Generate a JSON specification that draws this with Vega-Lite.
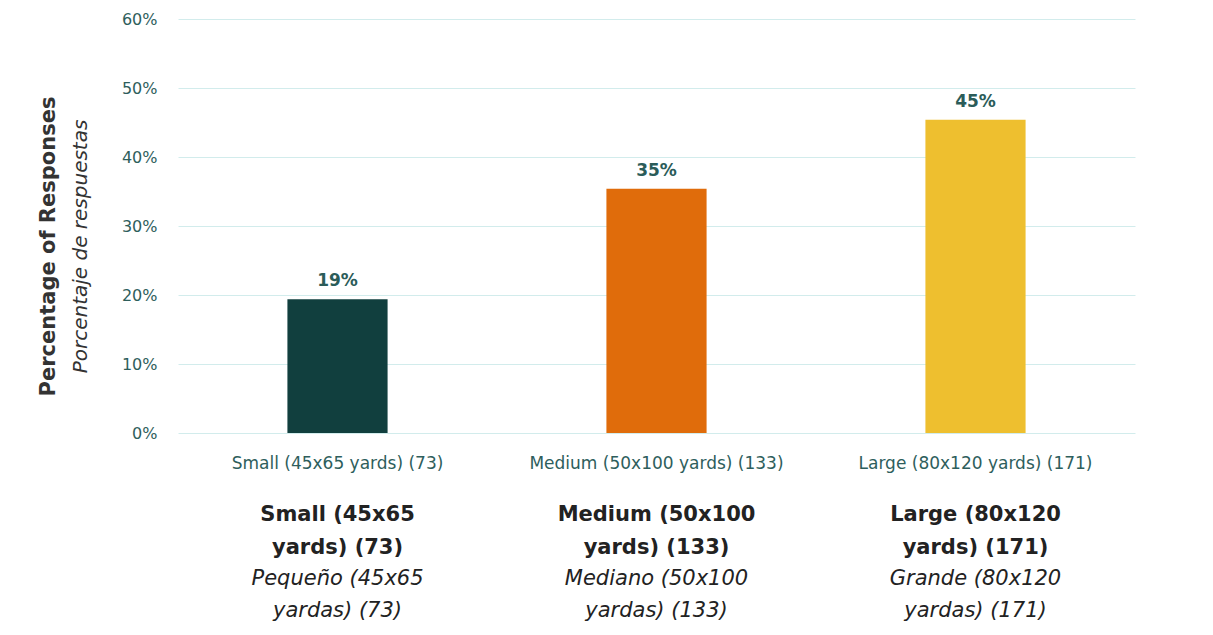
{
  "$schema": "https://vega.github.io/schema/vega-lite/v6.json",
  "width": 957,
  "height": 414,
  "autosize": {"type": "none"},
  "padding": {"left": 178, "top": 19, "right": 78, "bottom": 202},
  "background": "white",
  "config": {"view": {"stroke": null}, "font": "DejaVu Sans"},
  "data": {"values": [
    {"size": "Small (45x65 yards) (73)", "pct": 0.194, "color": "#113f3e"},
    {"size": "Medium (50x100 yards) (133)", "pct": 0.354, "color": "#e06c0b"},
    {"size": "Large (80x120 yards) (171)", "pct": 0.454, "color": "#eebf2f"}
  ]},
  "encoding": {
    "x": {"field": "size", "type": "nominal", "sort": null,
      "scale": {"paddingInner": 0.686, "paddingOuter": 0.343}}
  },
  "layer": [
    {
      "mark": {"type": "bar"},
      "encoding": {
        "x": {"field": "size", "type": "nominal", "sort": null,
          "axis": {"orient": "bottom", "title": null, "labelAngle": 0, "domain": false, "ticks": false,
            "labelPadding": 22, "labelFontSize": 17, "labelColor": "#2e5e5c", "labelFont": "DejaVu Sans", "labelLimit": 400}},
        "y": {"field": "pct", "type": "quantitative",
          "scale": {"domain": [0, 0.6]},
          "axis": {"orient": "left", "values": [0, 0.1, 0.2, 0.3, 0.4, 0.5, 0.6], "format": ".0%",
            "domain": false, "ticks": false, "labelPadding": 21, "labelFontSize": 16, "labelColor": "#2e5e5c", "labelFont": "DejaVu Sans",
            "gridColor": "#d2ecec", "gridWidth": 1,
            "title": "Percentage of Responses", "titleFont": "DejaVu Sans", "titleFontSize": 21, "titleFontWeight": "bold", "titleColor": "#333333",
            "titleAngle": -90, "titleX": -130, "titleY": 227, "titleAlign": "center", "titleBaseline": "middle"}},
        "color": {"field": "color", "type": "nominal", "scale": null, "legend": null}
      }
    },
    {
      "mark": {"type": "text", "baseline": "bottom", "dy": -9, "fontSize": 17, "fontWeight": "bold", "color": "#2b5c59", "font": "DejaVu Sans"},
      "encoding": {
        "x": {"field": "size", "type": "nominal", "sort": null,
          "axis": {"orient": "bottom", "title": null, "labelAngle": 0, "domain": false, "ticks": false, "grid": false,
            "offset": 70, "labelPadding": 0, "labelFont": "DejaVu Sans", "labelFontSize": 21, "labelFontWeight": "bold", "labelColor": "#222222",
            "labelLineHeight": 33, "labelBaseline": "top", "labelLimit": 400,
            "labelExpr": "datum.value == 'Small (45x65 yards) (73)' ? ['Small (45x65', 'yards) (73)'] : datum.value == 'Medium (50x100 yards) (133)' ? ['Medium (50x100', 'yards) (133)'] : ['Large (80x120', 'yards) (171)']"}},
        "y": {"field": "pct", "type": "quantitative",
          "axis": {"orient": "left", "labels": false, "domain": false, "ticks": false, "grid": false,
            "title": "Porcentaje de respuestas", "titleFont": "DejaVu Sans", "titleFontSize": 20, "titleFontWeight": "normal", "titleFontStyle": "italic", "titleColor": "#333333",
            "titleAngle": -90, "titleX": -98, "titleY": 227, "titleAlign": "center", "titleBaseline": "middle"}},
        "text": {"field": "pct", "type": "quantitative", "format": ".0%"}
      }
    },
    {
      "mark": {"type": "text", "text": ""},
      "encoding": {
        "x": {"field": "size", "type": "nominal", "sort": null,
          "axis": {"orient": "bottom", "title": null, "labelAngle": 0, "domain": false, "ticks": false, "grid": false,
            "offset": 134, "labelPadding": 0, "labelFont": "DejaVu Sans", "labelFontSize": 21, "labelFontStyle": "italic", "labelColor": "#222222",
            "labelLineHeight": 32, "labelBaseline": "top", "labelLimit": 400,
            "labelExpr": "datum.value == 'Small (45x65 yards) (73)' ? ['Pequeño (45x65', 'yardas) (73)'] : datum.value == 'Medium (50x100 yards) (133)' ? ['Mediano (50x100', 'yardas) (133)'] : ['Grande (80x120', 'yardas) (171)']"}}
      }
    }
  ],
  "resolve": {"axis": {"x": "independent", "y": "independent"}}
}
